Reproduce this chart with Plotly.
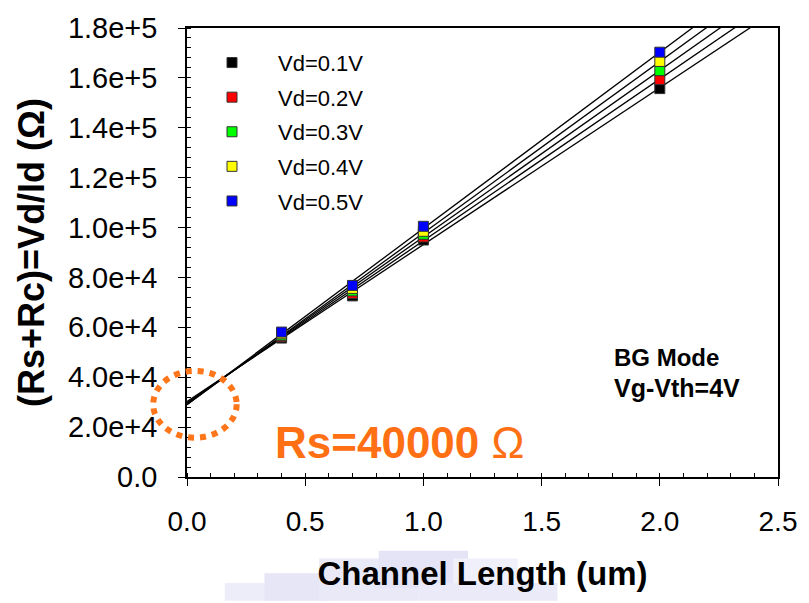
import numpy as np
import plotly.graph_objects as go

# Channel lengths (um) and total resistance (ohm) for each drain bias
channel_length = [0.4, 0.7, 1.0, 2.0]
r_vd_01 = [55700, 72600, 95000, 155700]
r_vd_02 = [56200, 73600, 96200, 159300]
r_vd_03 = [56800, 74600, 97300, 162900]
r_vd_04 = [57400, 75600, 98500, 166600]
r_vd_05 = [58100, 76800, 100500, 170300]

series_names = ["Vd=0.1V", "Vd=0.2V", "Vd=0.3V", "Vd=0.4V", "Vd=0.5V"]
series_values = [r_vd_01, r_vd_02, r_vd_03, r_vd_04, r_vd_05]
series_colors = ["#000000", "#ff0000", "#00ff00", "#ffff00", "#0000ff"]

x_ticks = [0.0, 0.5, 1.0, 1.5, 2.0, 2.5]
y_ticks = [0, 20000, 40000, 60000, 80000, 100000, 120000, 140000, 160000, 180000]
y_tick_text = ["0.0", "2.0e+4", "4.0e+4", "6.0e+4", "8.0e+4", "1.0e+5",
               "1.2e+5", "1.4e+5", "1.6e+5", "1.8e+5"]

FONT = "Arial, Liberation Sans, sans-serif"

fig = go.Figure()

# Linear fit of each series, extended back to zero length
fit_x = np.array([0.0, 2.5])
for vals in series_values:
    slope, intercept = np.polyfit(channel_length, vals, 1)
    fig.add_trace(go.Scatter(
        x=fit_x, y=slope * fit_x + intercept, mode="lines",
        line=dict(color="black", width=1.3), showlegend=False, hoverinfo="skip"))

for i, (name, vals, col) in enumerate(zip(series_names, series_values, series_colors)):
    fig.add_trace(go.Scatter(
        x=channel_length, y=vals, mode="markers", name=name,
        legendgroup=f"g{i}",
        marker=dict(symbol="square", size=10, color=col,
                    line=dict(color="#333333", width=1))))

# px -> paper helpers for the plot box (l=187, r=782, t=20, b=477)
def px(xp):
    return (xp - 187) / 595.0

def py(yp):
    return (477 - yp) / 457.0

fig.add_shape(type="circle", xref="paper", yref="paper",
              x0=px(153), x1=px(237), y0=py(437), y1=py(369),
              line=dict(color="#ff7519", width=6, dash="dot"))

# faint scanner haze behind the x-axis title
for (x0, x1, y0, y1, c) in [
        (225, 290, 585, 603, "#ededf9"),
        (265, 330, 575, 603, "#e6e6f7"),
        (320, 420, 560, 603, "#e9e9f8"),
        (380, 470, 552, 590, "#e4e4f6"),
        (420, 560, 585, 603, "#eaeaf8"),
        (455, 520, 560, 585, "#f0f0fb")]:
    fig.add_shape(type="rect", xref="paper", yref="paper", layer="below",
                  x0=px(x0), x1=px(x1), y0=py(y1), y1=py(y0),
                  line=dict(width=0), fillcolor=c)

fig.add_annotation(xref="paper", yref="paper", x=px(274), y=py(442),
                   xanchor="left", yanchor="middle", showarrow=False,
                   text="<b>Rs=40000</b> Ω",
                   font=dict(family=FONT, size=44, color="#ff6f14"))
fig.add_annotation(xref="paper", yref="paper", x=px(615), y=py(355),
                   xanchor="left", yanchor="middle", showarrow=False,
                   text="<b>BG Mode</b>",
                   font=dict(family=FONT, size=24, color="black"))
fig.add_annotation(xref="paper", yref="paper", x=px(615), y=py(386),
                   xanchor="left", yanchor="middle", showarrow=False,
                   text="<b>Vg-Vth=4V</b>",
                   font=dict(family=FONT, size=25, color="black"))

fig.update_layout(
    width=809, height=603,
    margin=dict(l=187, r=27, t=20, b=126),
    paper_bgcolor="white", plot_bgcolor="white",
    font=dict(family=FONT, color="black"),
    showlegend=True,
    legend=dict(x=px(186), y=py(34), xanchor="left", yanchor="top",
                bgcolor="rgba(0,0,0,0)", font=dict(family=FONT, size=22),
                itemwidth=82, tracegroupgap=3, traceorder="grouped"),
    xaxis=dict(range=[0, 2.5], tickvals=x_ticks, tickformat=".1f",
               showgrid=False, zeroline=False,
               showline=True, linecolor="black", linewidth=1.5, mirror=True,
               ticks="outside", ticklen=7, tickwidth=1.3, tickcolor="black",
               ticklabelstandoff=12,
               minor=dict(dtick=0.1, ticks="inside", ticklen=4, tickwidth=1.2,
                          tickcolor="black"),
               tickfont=dict(family=FONT, size=28),
               title=dict(text="<b>Channel Length (um)</b>",
                          font=dict(family=FONT, size=33), standoff=26)),
    yaxis=dict(range=[0, 180000], tickvals=y_ticks, ticktext=y_tick_text,
               showgrid=False, zeroline=False,
               showline=True, linecolor="black", linewidth=1.5, mirror=True,
               ticks="outside", ticklen=7, tickwidth=1.3, tickcolor="black",
               ticklabelstandoff=15,
               minor=dict(dtick=4000, ticks="inside", ticklen=4, tickwidth=1.2,
                          tickcolor="black"),
               tickfont=dict(family=FONT, size=29),
               title=dict(text="<b>(Rs+Rc)=Vd/Id (Ω)</b>",
                          font=dict(family=FONT, size=36), standoff=12)),
)

fig.write_html("out.html")
